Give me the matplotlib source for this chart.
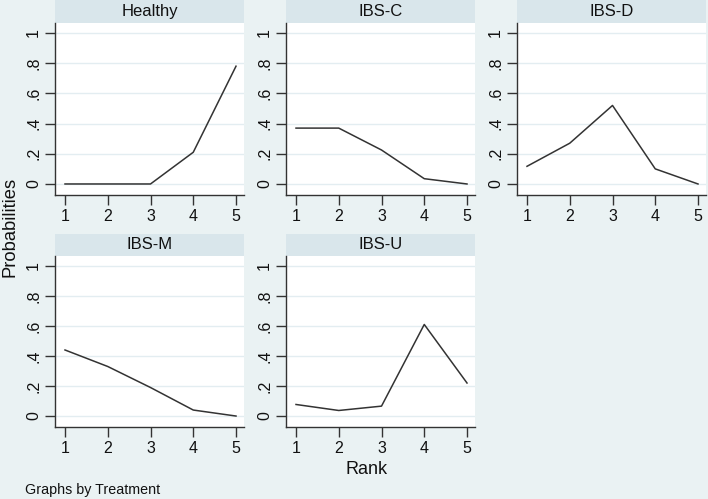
#!/usr/bin/env python3

from matplotlib import pyplot as plt

plt.rcParams["font.family"] = ["Liberation Sans", "DejaVu Sans"]

ranks = [1, 2, 3, 4, 5]
groups = ["Healthy", "IBS-C", "IBS-D", "IBS-M", "IBS-U"]
healthy = [0.0, 0.0, 0.0, 0.21, 0.78]
ibs_c = [0.37, 0.37, 0.225, 0.035, 0.0]
ibs_d = [0.117, 0.27, 0.52, 0.10, 0.0]
ibs_m = [0.44, 0.33, 0.19, 0.04, 0.0]
ibs_u = [0.077, 0.037, 0.066, 0.61, 0.22]
yticks = [0, 0.2, 0.4, 0.6, 0.8, 1]
ytick_labels = ["0", ".2", ".4", ".6", ".8", "1"]

series = [healthy, ibs_c, ibs_d, ibs_m, ibs_u]

BG = "#eaf2f3"
STRIP = "#d9e6eb"
GRID = "#e3edf1"
INK = "#333333"

W, H = 708, 499
fig = plt.figure(figsize=(W / 100, H / 100), dpi=100, facecolor=BG)

col_left = [55, 286, 517]
panel_w = 189
rows = [(0, 23, 195), (234, 256, 427)]  # strip top, plot top, plot bottom


def box(x0, y0, x1, y1):
    return [x0 / W, 1 - y1 / H, (x1 - x0) / W, (y1 - y0) / H]


for i, (name, vals) in enumerate(zip(groups, series)):
    r, c = divmod(i, 3)
    st, pt, pb = rows[r]
    x0 = col_left[c]
    x1 = x0 + panel_w

    # title strip
    sax = fig.add_axes(box(x0, st, x1, pt))
    sax.set_facecolor(STRIP)
    sax.set_xticks([])
    sax.set_yticks([])
    for s in sax.spines.values():
        s.set_visible(False)
    sax.text(0.5, 0.5, name, ha="center", va="center", fontsize=12,
             color="#111111", transform=sax.transAxes)

    ax = fig.add_axes(box(x0, pt, x1, pb))
    ax.set_facecolor("white")
    ax.plot(ranks, vals, color=INK, lw=1.1)
    ax.set_xlim(0.766, 5.187)
    ax.set_ylim(-0.073, 1.066)
    ax.set_xticks(ranks)
    ax.set_yticks(yticks)
    ax.set_yticklabels(ytick_labels, rotation=90, va="center")
    ax.grid(axis="y", color=GRID, lw=1)
    ax.set_axisbelow(True)
    for s in ["top", "right"]:
        ax.spines[s].set_visible(False)
    for s in ["left", "bottom"]:
        ax.spines[s].set_color(INK)
        ax.spines[s].set_linewidth(1.0)
    ax.tick_params(colors=INK, labelcolor="#111111", labelsize=11.5,
                   length=7, width=1, pad=3)

fig.text(10 / W, 1 - 227 / H, "Probabilities", rotation=90, ha="center",
         va="center", fontsize=13.2, color="#111111")
fig.text(367 / W, 1 - 469 / H, "Rank", ha="center", va="center",
         fontsize=13, color="#111111")
fig.text(25 / W, 1 - 490 / H, "Graphs by Treatment", ha="left", va="center",
         fontsize=10.3, color="#111111")

plt.savefig("out.png", dpi=100, facecolor=BG)
